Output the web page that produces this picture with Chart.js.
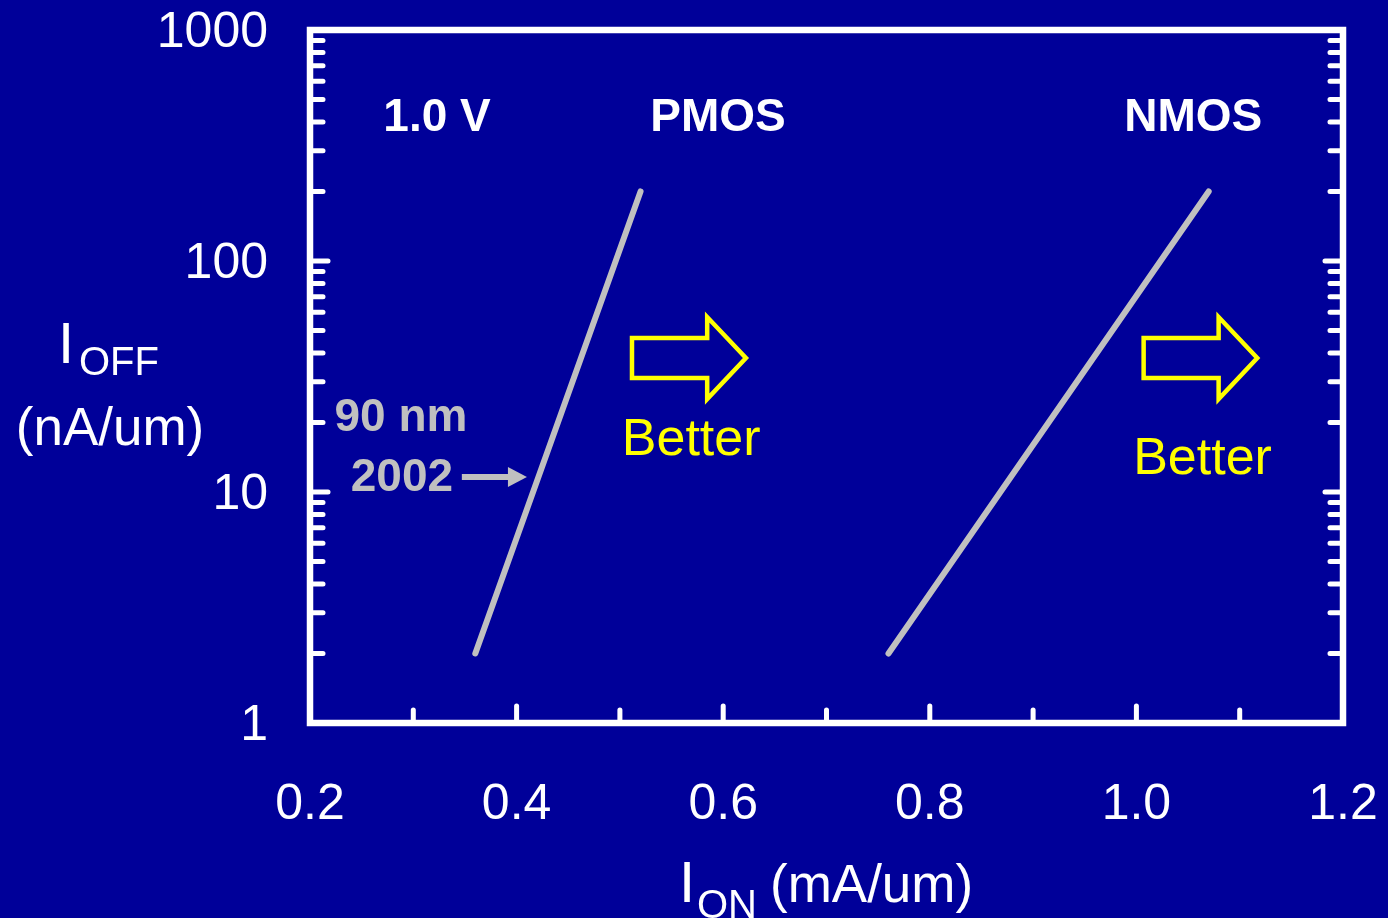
<!DOCTYPE html>
<html>
<head>
<meta charset="utf-8">
<script src="https://cdn.jsdelivr.net/npm/chart.js@4/dist/chart.umd.min.js"></script>
<style>
  html, body { margin: 0; padding: 0; background: #000099; }
  #wrap { width: 1388px; height: 918px; position: relative; }
</style>
</head>
<body>
<div id="wrap"><canvas id="chart"></canvas></div>
<script>
// I_ON (mA/um) vs I_OFF (nA/um) at 1.0 V, 90 nm 2002
const pmosOn = [0.36, 0.52];
const pmosOff = [2, 200];
const nmosOn = [0.76, 1.07];
const nmosOff = [2, 200];

const xLabelTicks = [0.2, 0.4, 0.6, 0.8, 1.0, 1.2];
const xMinorTicks = [0.3, 0.5, 0.7, 0.9, 1.1];
const yDecades = [1, 10, 100, 1000];
const yMinorSteps = [2, 3, 4, 5, 6, 7, 8, 9];

const FONT = '"Liberation Sans", Arial, sans-serif';
const LINE_GRAY = '#c0c0c0';
const YELLOW = '#ffff00';

function toPoints(xs, ys) {
  return xs.map((x, i) => ({ x: x, y: ys[i] }));
}

// block arrow outline from left end to tip, centred on yc
function drawBlockArrow(ctx, x0, x1, yc) {
  const len = x1 - x0;
  const headX = x0 + len * 0.66;
  ctx.beginPath();
  ctx.moveTo(x0, yc - 20);
  ctx.lineTo(headX, yc - 20);
  ctx.lineTo(headX, yc - 41);
  ctx.lineTo(x1, yc);
  ctx.lineTo(headX, yc + 41);
  ctx.lineTo(headX, yc + 20);
  ctx.lineTo(x0, yc + 20);
  ctx.closePath();
  ctx.stroke();
}

const decorations = {
  id: 'decorations',
  afterDraw(chart) {
    const ctx = chart.ctx;
    const xs = chart.scales.x;
    const ys = chart.scales.y;
    const a = chart.chartArea;
    ctx.save();

    // frame
    ctx.strokeStyle = '#ffffff';
    ctx.lineWidth = 6.5;
    ctx.lineJoin = 'miter';
    ctx.strokeRect(a.left, a.top, a.right - a.left, a.bottom - a.top);

    // y ticks, both sides, pointing in
    ctx.lineWidth = 5;
    ctx.lineCap = 'round';
    ctx.beginPath();
    yDecades.forEach((d, i) => {
      const py = ys.getPixelForValue(d);
      if (i > 0 && i < yDecades.length - 1) {
        ctx.moveTo(a.left, py); ctx.lineTo(a.left + 18, py);
        ctx.moveTo(a.right, py); ctx.lineTo(a.right - 18, py);
      }
      if (i < yDecades.length - 1) {
        yMinorSteps.forEach(m => {
          const p = ys.getPixelForValue(d * m);
          ctx.moveTo(a.left, p); ctx.lineTo(a.left + 13, p);
          ctx.moveTo(a.right, p); ctx.lineTo(a.right - 13, p);
        });
      }
    });
    // x ticks, bottom only
    xLabelTicks.slice(1, -1).forEach(v => {
      const px = xs.getPixelForValue(v);
      ctx.moveTo(px, a.bottom); ctx.lineTo(px, a.bottom - 17);
    });
    xMinorTicks.forEach(v => {
      const px = xs.getPixelForValue(v);
      ctx.moveTo(px, a.bottom); ctx.lineTo(px, a.bottom - 13);
    });
    ctx.stroke();

    // labels inside the plot
    ctx.textAlign = 'center';
    ctx.textBaseline = 'middle';
    ctx.fillStyle = '#ffffff';
    ctx.font = 'bold 46px ' + FONT;
    ctx.fillText('1.0 V', xs.getPixelForValue(0.323), ys.getPixelForValue(415));
    ctx.fillText('PMOS', xs.getPixelForValue(0.595), ys.getPixelForValue(415));
    ctx.fillText('NMOS', xs.getPixelForValue(1.055), ys.getPixelForValue(415));

    ctx.fillStyle = LINE_GRAY;
    ctx.fillText('90 nm', xs.getPixelForValue(0.288), ys.getPixelForValue(20.9));
    ctx.fillText('2002', xs.getPixelForValue(0.289), ys.getPixelForValue(11.5));
    const ay = ys.getPixelForValue(11.6);
    const ax0 = xs.getPixelForValue(0.347);
    const ax1 = xs.getPixelForValue(0.410);
    ctx.strokeStyle = LINE_GRAY;
    ctx.lineWidth = 6;
    ctx.lineCap = 'butt';
    ctx.beginPath();
    ctx.moveTo(ax0, ay); ctx.lineTo(ax1 - 14, ay);
    ctx.stroke();
    ctx.beginPath();
    ctx.moveTo(ax1, ay); ctx.lineTo(ax1 - 19, ay - 10); ctx.lineTo(ax1 - 19, ay + 10);
    ctx.closePath();
    ctx.fill();

    // "better" arrows
    ctx.strokeStyle = YELLOW;
    ctx.fillStyle = YELLOW;
    ctx.lineWidth = 4.5;
    ctx.lineJoin = 'miter';
    const arrowY = ys.getPixelForValue(38);
    drawBlockArrow(ctx, xs.getPixelForValue(0.5117), xs.getPixelForValue(0.622), arrowY);
    drawBlockArrow(ctx, xs.getPixelForValue(1.007), xs.getPixelForValue(1.117), arrowY);
    ctx.font = '52px ' + FONT;
    ctx.fillText('Better', xs.getPixelForValue(0.569), ys.getPixelForValue(16.6));
    ctx.fillText('Better', xs.getPixelForValue(1.064), ys.getPixelForValue(13.8));

    // axis titles with subscripts
    ctx.fillStyle = '#ffffff';
    ctx.textAlign = 'left';
    ctx.textBaseline = 'alphabetic';
    ctx.font = '58px ' + FONT;
    ctx.fillText('I', 58, 363);
    ctx.font = '40px ' + FONT;
    ctx.fillText('OFF', 79, 375);
    ctx.font = '53px ' + FONT;
    ctx.textAlign = 'center';
    ctx.fillText('(nA/um)', 110, 445);

    ctx.textAlign = 'left';
    ctx.font = '58px ' + FONT;
    ctx.fillText('I', 679, 902);
    ctx.font = '40px ' + FONT;
    ctx.fillText('ON', 697, 918);
    ctx.font = '53px ' + FONT;
    ctx.fillText('(mA/um)', 770, 902);

    ctx.restore();
  }
};

new Chart(document.getElementById('chart'), {
  type: 'line',
  data: {
    datasets: [
      {
        label: 'PMOS',
        data: toPoints(pmosOn, pmosOff),
        borderColor: LINE_GRAY,
        borderWidth: 6,
        borderCapStyle: 'round',
        pointRadius: 0,
        fill: false
      },
      {
        label: 'NMOS',
        data: toPoints(nmosOn, nmosOff),
        borderColor: LINE_GRAY,
        borderWidth: 6,
        borderCapStyle: 'round',
        pointRadius: 0,
        fill: false
      }
    ]
  },
  options: {
    responsive: true,
    maintainAspectRatio: false,
    animation: false,
    layout: { padding: { top: 30, right: 45, left: 0, bottom: 0 } },
    plugins: {
      legend: { display: false },
      tooltip: { enabled: false }
    },
    scales: {
      x: {
        type: 'linear',
        min: 0.2,
        max: 1.2,
        afterBuildTicks: scale => { scale.ticks = xLabelTicks.map(v => ({ value: v })); },
        afterFit: scale => {
          scale.height = 195;
          // let end labels hang over the padding instead of shrinking the plot
          scale.paddingLeft = 0;
          scale.paddingRight = 0;
        },
        grid: { display: false, drawTicks: false },
        border: { display: false },
        ticks: {
          color: '#ffffff',
          padding: 57,
          maxRotation: 0,
          font: { family: FONT, size: 50, lineHeight: 1 },
          callback: v => v.toFixed(1)
        }
      },
      y: {
        type: 'logarithmic',
        min: 1,
        max: 1000,
        afterBuildTicks: scale => { scale.ticks = yDecades.map(v => ({ value: v })); },
        afterFit: scale => {
          scale.width = 310;
          scale.paddingTop = 0;
          scale.paddingBottom = 0;
        },
        grid: { display: false, drawTicks: false },
        border: { display: false },
        ticks: {
          color: '#ffffff',
          padding: 42,
          labelOffset: 3,
          font: { family: FONT, size: 50, lineHeight: 1 },
          callback: v => String(v)
        }
      }
    }
  },
  plugins: [decorations]
});
</script>
</body>
</html>
